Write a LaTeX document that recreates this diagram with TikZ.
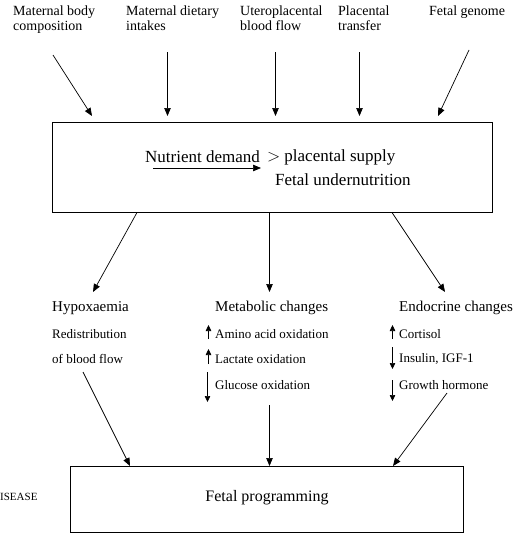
\documentclass[tikz,border=0pt]{standalone}
\usepackage{fontspec}
\setmainfont{Liberation Serif}
\usetikzlibrary{arrows.meta}
\begin{document}
\begin{tikzpicture}[x=1pt,y=-1pt,
  arr/.style={-{Triangle[length=8pt,width=6.5pt]}, line width=0.7pt},
  sarr/.style={-{Triangle[length=6pt,width=5.5pt]}, line width=0.6pt},
  box/.style={draw, line width=0.8pt, inner sep=0pt},
  lbl/.style={inner sep=0pt, anchor=north west, align=left, font=\fontsize{14}{15}\selectfont},
  hdr/.style={inner sep=0pt, anchor=west, font=\fontsize{15}{17}\selectfont},
  itm/.style={inner sep=0pt, anchor=west, font=\fontsize{13}{15}\selectfont},
  big/.style={inner sep=0pt, anchor=west, font=\fontsize{17}{19}\selectfont}]
\useasboundingbox (0,0) rectangle (514,533);

% top labels
\node[lbl] (l1) at (13,6) {Maternal body\\composition};
\node[lbl] (l2) at (126,6) {Maternal dietary\\intakes};
\node[lbl] (l3) at (240,6) {Uteroplacental\\blood flow};
\node[lbl] (l4) at (338,6) {Placental\\transfer};
\node[lbl] (l5) at (429,6) {Fetal genome};

% top box
\node[box, minimum width=440pt, minimum height=90pt] (top) at (272,167.5) {};
\node[big] (nd) at (145,157) {Nutrient demand};
\node[big] (ps) at (264,157) {\,${>}$ placental supply};
\node[big] (fu) at (275,180) {Fetal undernutrition};
\coordinate (ndA) at (153,168);
\coordinate (ndB) at (261,168);
\draw[arr] (ndA) -- (ndB);

% arrows into top box
\coordinate (s1) at (53,55);  \coordinate (e1) at (92,116);
\coordinate (s2) at (167.5,52); \coordinate (e2) at (167.5,116);
\coordinate (s3) at (275.5,52); \coordinate (e3) at (275.5,116);
\coordinate (s4) at (359.5,52); \coordinate (e4) at (359.5,116);
\coordinate (s5) at (469,50); \coordinate (e5) at (438,116);
\foreach \i in {1,...,5} {\draw[arr] (s\i) -- (e\i);}

% arrows out of top box
\coordinate (m1) at (93,292);
\coordinate (m2) at (269.5,292);
\coordinate (m3) at (445,292);
\coordinate (o1) at (137,212.5);
\coordinate (o2) at (269.5,212.5);
\coordinate (o3) at (392,212.5);
\draw[arr] (o1) -- (m1);
\draw[arr] (o2) -- (m2);
\draw[arr] (o3) -- (m3);

% middle column texts
\node[hdr] (hy) at (52,308) {Hypoxaemia};
\node[itm] (rd) at (52,334) {Redistribution};
\node[itm] (bf) at (52,359) {of blood flow};

\node[hdr] (mc) at (215,308) {Metabolic changes};
\node[itm] (aa) at (215,334) {Amino acid oxidation};
\node[itm] (lo) at (215,359) {Lactate oxidation};
\node[itm] (go) at (215,385) {Glucose oxidation};

\node[hdr] (ec) at (399,308) {Endocrine changes};
\node[itm] (co) at (399,334) {Cortisol};
\node[itm] (ins) at (399,359) {Insulin, IGF-1};
\node[itm] (gh) at (399,385) {Growth hormone};

% small trend arrows
\coordinate (aa1) at (208.5,339); \coordinate (aa2) at (208.5,325);
\coordinate (lo1) at (208.5,364); \coordinate (lo2) at (208.5,349);
\coordinate (go1) at (207.5,372); \coordinate (go2) at (207.5,402);
\coordinate (co1) at (392.5,339); \coordinate (co2) at (392.5,325);
\coordinate (in1) at (392.5,347); \coordinate (in2) at (392.5,369);
\coordinate (gh1) at (392.5,380); \coordinate (gh2) at (392.5,401);
\draw[sarr] (aa1) -- (aa2);
\draw[sarr] (lo1) -- (lo2);
\draw[sarr] (go1) -- (go2);
\draw[sarr] (co1) -- (co2);
\draw[sarr] (in1) -- (in2);
\draw[sarr] (gh1) -- (gh2);

% bottom box
\node[box, minimum width=393pt, minimum height=66pt] (bot) at (266.5,499) {};
\node[inner sep=0pt, font=\fontsize{16}{18}\selectfont] (fp) at (267,498) {Fetal programming};
\node[inner sep=0pt, anchor=west, font=\fontsize{11}{13}\selectfont] (dis) at (0,497) {ISEASE};

% arrows into bottom box
\coordinate (b1) at (83,372);  \coordinate (f1) at (130,466);
\coordinate (b2) at (269.5,405); \coordinate (f2) at (269.5,466);
\coordinate (b3) at (447,393); \coordinate (f3) at (393,466);
\draw[arr] (b1) -- (f1);
\draw[arr] (b2) -- (f2);
\draw[arr] (b3) -- (f3);
\end{tikzpicture}
\end{document}
